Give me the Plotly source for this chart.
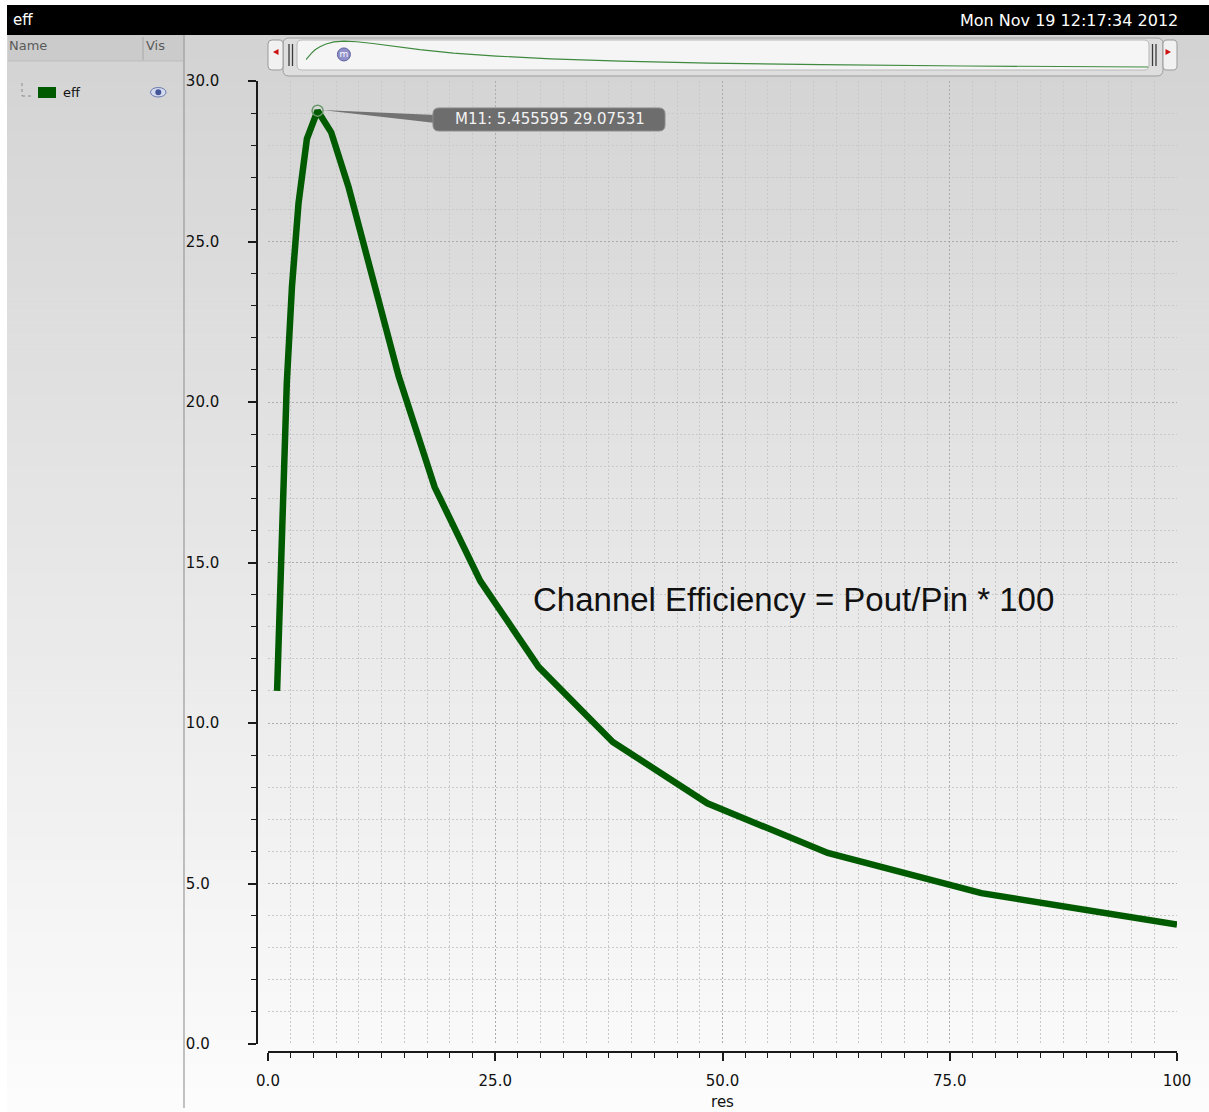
import plotly.graph_objects as go

# ---- data: efficiency sweep over load resistance ----
res = [1.0, 1.274, 1.624, 2.069, 2.637, 3.360, 4.281, 5.455595, 6.952, 8.859,
       11.29, 14.38, 18.33, 23.36, 29.76, 37.93, 48.33, 61.58, 78.48, 100.0]
eff = [11.0, 13.8, 17.0, 20.6, 23.6, 26.2, 28.2, 29.07531, 28.4, 26.7,
       24.1, 20.8, 17.35, 14.42, 11.75, 9.41, 7.5, 5.95, 4.70, 3.72]

marker_name = "M11"
marker_x = 5.455595
marker_y = 29.07531

x_tickvals = [0, 25, 50, 75, 100]
x_ticktext = ["0.0", "25.0", "50.0", "75.0", "100"]
y_tickvals = [0, 5, 10, 15, 20, 25, 30]
y_ticktext = ["0.0\u2007", "5.0\u2007", "10.0", "15.0", "20.0", "25.0", "30.0"]

trace_name = "eff"
window_title = "eff"
timestamp = "Mon Nov 19 12:17:34 2012"
note = "Channel Efficiency = Pout/Pin * 100"

W, H = 1209, 1112
GREEN = "#005a00"
FONT = "DejaVu Sans"


def fx(px):
    return px / W


def fy(py):
    return 1 - py / H


shapes = []


def rect(x0, y0, x1, y1, fill, line=None, lw=0, layer="below"):
    shapes.append(dict(type="rect", xref="paper", yref="paper",
                       x0=fx(x0), x1=fx(x1), y0=fy(y1), y1=fy(y0),
                       fillcolor=fill, layer=layer,
                       line=dict(color=line or fill, width=lw)))


def seg(x0, y0, x1, y1, color, lw=1, dash="solid", layer="below"):
    shapes.append(dict(type="line", xref="paper", yref="paper",
                       x0=fx(x0), x1=fx(x1), y0=fy(y0), y1=fy(y1),
                       layer=layer, line=dict(color=color, width=lw, dash=dash)))


def rrect(x0, y0, x1, y1, r, fill, line, lw=1, layer="below"):
    # rounded rectangle as an SVG path in paper units
    def P(x, y):
        return f"{fx(x):.6f},{fy(y):.6f}"
    path = (f"M {P(x0 + r, y0)} L {P(x1 - r, y0)} Q {P(x1, y0)} {P(x1, y0 + r)} "
            f"L {P(x1, y1 - r)} Q {P(x1, y1)} {P(x1 - r, y1)} "
            f"L {P(x0 + r, y1)} Q {P(x0, y1)} {P(x0, y1 - r)} "
            f"L {P(x0, y0 + r)} Q {P(x0, y0)} {P(x0 + r, y0)} Z")
    shapes.append(dict(type="path", xref="paper", yref="paper", path=path,
                       fillcolor=fill, layer=layer, line=dict(color=line, width=lw)))


def tri(pts, fill):
    path = "M " + " L ".join(f"{fx(x):.6f},{fy(y):.6f}" for x, y in pts) + " Z"
    shapes.append(dict(type="path", xref="paper", yref="paper", path=path,
                       fillcolor=fill, layer="below", line=dict(width=0)))


# window background: vertical grey gradient
top, bot = 35, 1112
c0, c1 = (0xd3, 0xd3, 0xd3), (0xfc, 0xfc, 0xfc)
nb = 90
for i in range(nb):
    t = i / (nb - 1)
    c = tuple(round(a + (b - a) * t) for a, b in zip(c0, c1))
    ya = top + (bot - top) * i / nb
    yb = top + (bot - top) * (i + 1) / nb + 0.6
    rect(7, ya, W, yb, "rgb(%d,%d,%d)" % c)

# title bar
rect(7, 5, W, 35, "#000000")

# signal list header
rect(8, 35, 183, 61, "#cbcbcb")
seg(143, 37, 143, 60, "#a8a8a8")
seg(8, 61, 183, 61, "#bdbdbd")
seg(184, 35, 184, 1108, "#9a9a9a", 1.2)

# tree connector, swatch and eye icon
seg(22, 83, 22, 96, "#8a8a8a", 1, "dot")
seg(22, 96, 34, 96, "#8a8a8a", 1, "dot")
rect(38, 87, 56, 98, GREEN)
shapes.append(dict(type="circle", xref="paper", yref="paper",
                   x0=fx(150.5), x1=fx(166), y0=fy(97), y1=fy(87.5),
                   fillcolor="#d4dbef", line=dict(color="#6a78ad", width=1), layer="below"))
shapes.append(dict(type="circle", xref="paper", yref="paper",
                   x0=fx(155.3), x1=fx(161.3), y0=fy(95.3), y1=fy(89.3),
                   fillcolor="#44559a", line=dict(width=0), layer="below"))

# overview strip
rrect(283, 38, 1163, 76, 6, "#dedede", "#9c9c9c")
rrect(297, 40, 1149, 70, 5, "#f5f5f5", "#b8b8b8")
rrect(268, 40, 283, 70, 4, "#f1f1f1", "#9a9a9a")
rrect(1163, 40, 1177, 70, 4, "#f1f1f1", "#9a9a9a")
tri([(273, 52), (278.5, 49), (278.5, 55)], "#cc1010")
tri([(1165.5, 49), (1165.5, 55), (1171, 52)], "#cc1010")
for xh in (289, 292.5, 1152.5, 1156):
    seg(xh, 44, xh, 66, "#3a3a3a", 1.3)

# marker tag: leader wedge and rounded label box, anchored at the marker point
box_path = ("M 121.4,2.7 L 341.4,2.7 Q 347.4,2.7 347.4,-3.3 L 347.4,-14.3 "
            "Q 347.4,-20.3 341.4,-20.3 L 121.4,-20.3 Q 115.4,-20.3 115.4,-14.3 "
            "L 115.4,-3.3 Q 115.4,2.7 121.4,2.7 Z")
shapes.append(dict(type="path", xref="x", yref="y", xsizemode="pixel", ysizemode="pixel",
                   xanchor=marker_x, yanchor=marker_y, path="M 4,0.6 L 118,-4.3 L 118,-12.3 Z",
                   fillcolor="#737373", line=dict(width=0), layer="above"))
shapes.append(dict(type="path", xref="x", yref="y", xsizemode="pixel", ysizemode="pixel",
                   xanchor=marker_x, yanchor=marker_y, path=box_path,
                   fillcolor="#6d6d6d", line=dict(color="#8a8a8a", width=1), layer="above"))

fig = go.Figure()

fig.add_trace(go.Scatter(x=res, y=eff, mode="lines", name=trace_name,
                         line=dict(color=GREEN, width=6.5), xaxis="x", yaxis="y",
                         showlegend=False))
fig.add_trace(go.Scatter(x=[marker_x], y=[marker_y], mode="markers",
                         marker=dict(symbol="circle-open", size=11,
                                     line=dict(color="#6a986a", width=1.5), color="#6a986a"),
                         xaxis="x", yaxis="y", showlegend=False))

# overview of the whole waveform
fig.add_trace(go.Scatter(x=res, y=eff, mode="lines", line=dict(color="#3f8a3f", width=1.2),
                         xaxis="x2", yaxis="y2", showlegend=False))
fig.add_trace(go.Scatter(x=[marker_x], y=[16], mode="markers+text", text=["m"],
                         textposition="middle center",
                         textfont=dict(family=FONT, size=9, color="#ffffff"),
                         marker=dict(size=13, color="#8f8fc9",
                                     line=dict(color="#5f5f9c", width=1)),
                         xaxis="x2", yaxis="y2", showlegend=False))

grid_major = "#acacac"
grid_minor = "#c9c9c9"
dots = "1.5px,2.5px"

fig.update_layout(
    width=W, height=H, autosize=False,
    margin=dict(l=0, r=0, t=0, b=0),
    paper_bgcolor="#ffffff", plot_bgcolor="rgba(0,0,0,0)",
    font=dict(family=FONT, size=15, color="#111111"),
    shapes=shapes,
    xaxis=dict(domain=[fx(268), fx(1177)], range=[0, 100], anchor="free",
               position=fy(1052), showline=True, linecolor="#1a1a1a", linewidth=1.5,
               ticks="outside", ticklen=8, tickwidth=1.5, tickcolor="#1a1a1a",
               tickvals=x_tickvals, ticktext=x_ticktext, ticklabelstandoff=7,
               tickfont=dict(family=FONT, size=15, color="#111111"),
               showgrid=True, gridcolor=grid_major, griddash=dots, gridwidth=1,
               zeroline=False, automargin=False,
               minor=dict(dtick=2.5, tick0=0, ticks="outside", ticklen=5,
                          tickwidth=1.3, tickcolor="#1a1a1a", showgrid=True,
                          gridcolor=grid_minor, griddash=dots, gridwidth=1),
               title=dict(text="res", standoff=7,
                          font=dict(family=FONT, size=15, color="#111111"))),
    yaxis=dict(domain=[fy(1044), fy(81)], range=[0, 30], anchor="free",
               position=fx(257), side="left", showline=True, linecolor="#1a1a1a",
               linewidth=1.5, ticks="outside", ticklen=8, tickwidth=1.5,
               tickcolor="#1a1a1a", tickvals=y_tickvals, ticktext=y_ticktext,
               ticklabelstandoff=26,
               tickfont=dict(family=FONT, size=15, color="#111111"),
               showgrid=True, gridcolor=grid_major, griddash=dots, gridwidth=1,
               zeroline=False, automargin=False,
               minor=dict(dtick=1, tick0=0, ticks="outside", ticklen=5,
                          tickwidth=1.3, tickcolor="#1a1a1a", showgrid=True,
                          gridcolor=grid_minor, griddash=dots, gridwidth=1)),
    xaxis2=dict(domain=[fx(306), fx(1148)], range=[1, 100], anchor="y2", visible=False),
    yaxis2=dict(domain=[fy(70.8), fy(39.1)], range=[0, 31], anchor="x2", visible=False),
    annotations=[
        dict(text=window_title, xref="paper", yref="paper", x=fx(11), y=fy(20),
             xanchor="left", yanchor="middle", showarrow=False,
             font=dict(family=FONT, size=15, color="#ffffff")),
        dict(text=timestamp, xref="paper", yref="paper", x=fx(1180), y=fy(20),
             xanchor="right", yanchor="middle", showarrow=False,
             font=dict(family=FONT, size=16, color="#ffffff")),
        dict(text="Name", xref="paper", yref="paper", x=fx(7), y=fy(46),
             xanchor="left", yanchor="middle", showarrow=False,
             font=dict(family=FONT, size=13, color="#5a5a5a")),
        dict(text="Vis", xref="paper", yref="paper", x=fx(144), y=fy(46),
             xanchor="left", yanchor="middle", showarrow=False,
             font=dict(family=FONT, size=13, color="#5a5a5a")),
        dict(text=trace_name, xref="paper", yref="paper", x=fx(61), y=fy(92),
             xanchor="left", yanchor="middle", showarrow=False,
             font=dict(family=FONT, size=13, color="#111111")),
        dict(text=f"{marker_name}: {marker_x} {marker_y}", xref="x", yref="y",
             x=marker_x, y=marker_y, xanchor="left", yanchor="middle",
             xshift=135, yshift=-8.8, showarrow=False,
             font=dict(family=FONT, size=15, color="#f2f2f2")),
        dict(text=note, xref="paper", yref="paper", x=fx(531), y=fy(599),
             xanchor="left", yanchor="middle", showarrow=False,
             font=dict(family="Liberation Sans", size=33, color="#111111")),
    ],
)

fig.write_html("out.html", config={"displayModeBar": False})
